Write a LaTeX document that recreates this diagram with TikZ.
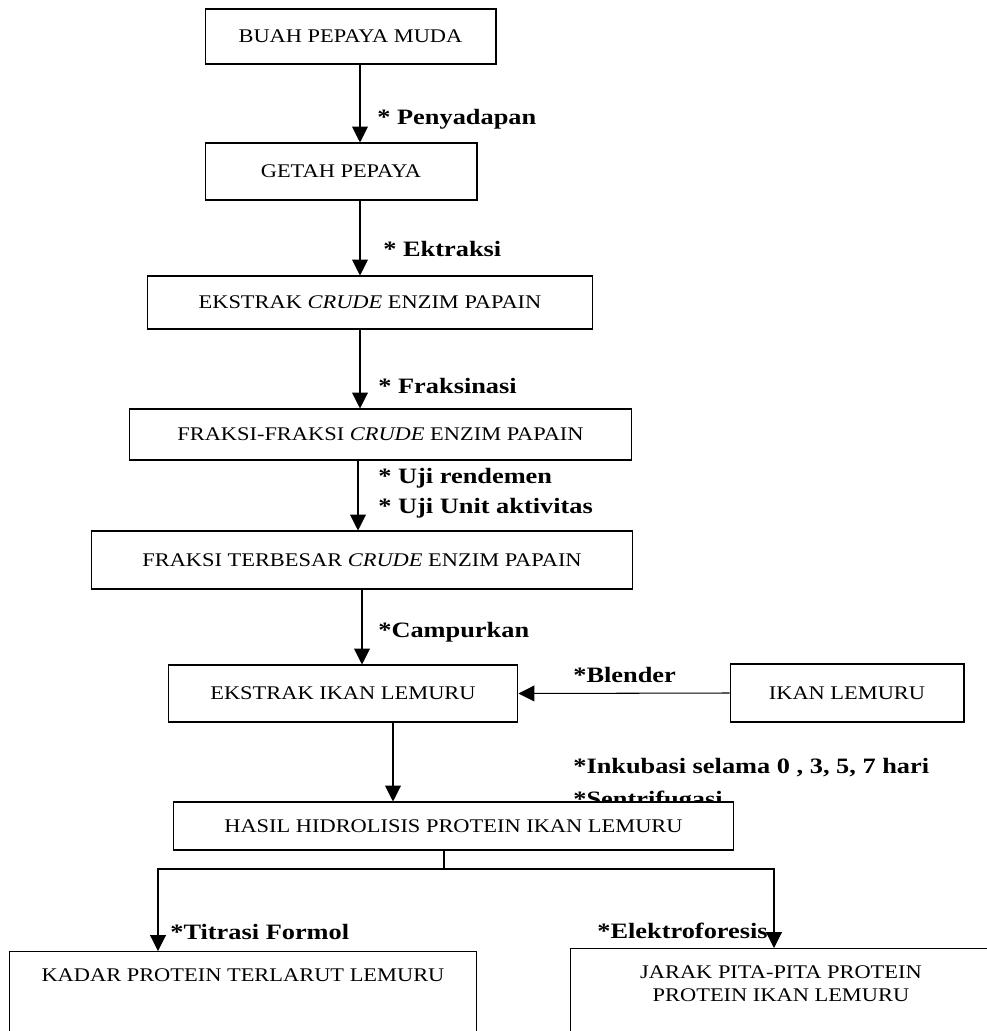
\documentclass[tikz,border=0pt]{standalone}
\usepackage{fontspec}
\setmainfont{Liberation Serif}
\newfontfamily\boxfont[FakeStretch=1.16]{Liberation Serif}
\newfontfamily\notefont[FakeStretch=1.2]{Liberation Serif}
\usetikzlibrary{arrows.meta}

\begin{document}
\begin{tikzpicture}[x=0.02cm, y=-0.02cm,
	proc/.style={draw, fill=white, line width=0.6pt, inner sep=0pt,
		font=\boxfont\fontsize{11}{13}\selectfont},
	note/.style={anchor=base west, inner sep=0pt,
		font=\notefont\fontsize{12.5}{15}\selectfont\bfseries},
	flow/.style={line width=0.6pt, -{Triangle[width=9pt,length=9pt]}}]
\useasboundingbox (0,0) rectangle (987,1031);
\clip (0,0) rectangle (987,1031);

\path (350.5,36.5) node[proc, minimum width=5.82cm, minimum height=1.1cm] (buah) {BUAH PEPAYA MUDA}
		(341,171.5) node[proc, minimum width=5.44cm, minimum height=1.14cm] (getah) {GETAH PEPAYA}
		(370,302.5) node[proc, minimum width=8.92cm, minimum height=1.06cm] (ekstrak) {EKSTRAK \textit{CRUDE} ENZIM PAPAIN}
		(380.5,434.5) node[proc, minimum width=10.06cm, minimum height=1.02cm] (fraksi) {FRAKSI-FRAKSI \textit{CRUDE} ENZIM PAPAIN}
		(362,560) node[proc, minimum width=10.84cm, minimum height=1.16cm] (terbesar) {FRAKSI TERBESAR \textit{CRUDE} ENZIM PAPAIN}
		(343,693.5) node[proc, minimum width=7cm, minimum height=1.14cm] (ekstrakikan) {EKSTRAK IKAN LEMURU}
		(847,693) node[proc, minimum width=4.68cm, minimum height=1.16cm] (ikan) {IKAN LEMURU}
		(377,124) node[note] (sadap) {* Penyadapan}
		(383,256) node[note] (ekstraksi) {* Ektraksi}
		(378,393) node[note] (fraksinasi) {* Fraksinasi}
		(378,483) node[note] (rendemen) {* Uji rendemen}
		(378,513) node[note] (aktivitas) {* Uji Unit aktivitas}
		(378,637) node[note] (campur) {*Campurkan}
		(573,682) node[note] (blender) {*Blender}
		(573,773) node[note] (inkubasi) {*Inkubasi selama 0 , 3, 5, 7 hari}
		(573,806) node[note] (sentri) {*Sentrifugasi}
		(453.5,826) node[proc, minimum width=11.22cm, minimum height=0.96cm] (hasil) {HASIL HIDROLISIS PROTEIN IKAN LEMURU}
		(170,939) node[note] (titrasi) {*Titrasi Formol}
		(597,938) node[note] (elektro) {*Elektroforesis}
		(243,951) node[proc, anchor=north, minimum width=9.36cm, text height=0.6cm, text depth=2cm] (kadar) {KADAR PROTEIN TERLARUT LEMURU}
		(781,948) node[proc, anchor=north, minimum width=8.44cm, text height=0.6cm, text depth=2cm] (jarak) {\begin{tabular}[t]{@{}c@{}}JARAK PITA-PITA PROTEIN\\ PROTEIN IKAN LEMURU\end{tabular}}
;

\draw[flow] (360,0 |- buah.south) -- (360,0 |- getah.north);
\draw[flow] (360,0 |- getah.south) -- (360,0 |- ekstrak.north);
\draw[flow] (360,0 |- ekstrak.south) -- (360,0 |- fraksi.north);
\draw[flow] (358,0 |- fraksi.south) -- (358,0 |- terbesar.north);
\draw[flow] (362,0 |- terbesar.south) -- (362,0 |- ekstrakikan.north);
\draw[flow] (node cs:name=ikan, anchor=west) -- (node cs:name=ekstrakikan, anchor=east);
\draw[flow] (393,0 |- ekstrakikan.south) -- (393,0 |- hasil.north);

\draw[line width=0.6pt] (444,0 |- hasil.south) -- (444,869);
\draw[flow] (444,869) -| (158,0 |- kadar.north);
\draw[flow] (444,869) -| (774,0 |- jarak.north);

\end{tikzpicture}
\end{document}
